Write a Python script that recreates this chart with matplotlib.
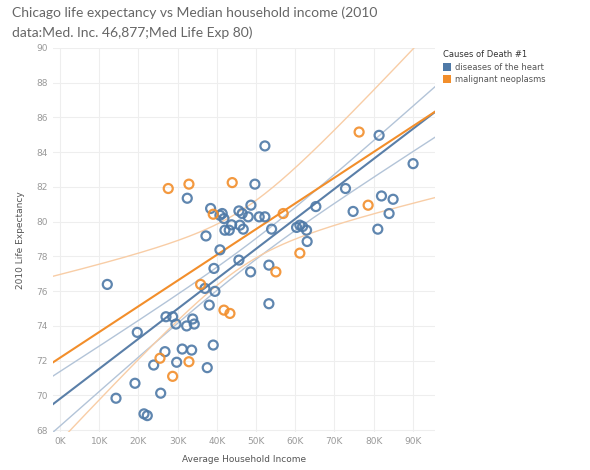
import matplotlib
matplotlib.use("Agg")
import matplotlib.pyplot as plt
from matplotlib.patches import Patch
import numpy as np

# income in thousands, life expectancy in years
heart_income = [12.06, 32.46, 38.42, 40.80, 41.38, 41.82, 45.64, 46.48, 48.01, 50.82,
                52.27, 48.70, 49.72, 52.27, 43.78, 45.89, 42.07, 43.17, 46.74, 37.23,
                53.98, 60.35, 61.19, 61.88, 62.90, 63.05, 65.27, 72.84, 74.78, 81.41,
                90.08, 82.02, 84.98, 83.96, 81.08, 40.80, 45.64, 39.27, 48.62, 53.29,
                36.97, 39.52, 53.29, 38.07, 39.09, 37.56, 27.03, 28.73, 29.58, 33.84,
                32.30, 34.24, 19.71, 26.77, 31.18, 33.58, 29.76, 23.89, 19.12, 25.68,
                14.28, 21.42, 22.26]
heart_life = [76.39, 81.35, 80.76, 80.37, 80.47, 80.18, 80.62, 80.47, 80.28, 80.28,
              80.28, 80.95, 82.16, 84.36, 79.82, 79.80, 79.51, 79.51, 79.57, 79.18,
              79.57, 79.67, 79.80, 79.72, 79.51, 78.86, 80.87, 81.91, 80.59, 84.97,
              83.34, 81.48, 81.29, 80.47, 79.57, 78.38, 77.79, 77.31, 77.11, 77.50,
              76.16, 75.99, 75.28, 75.20, 72.90, 71.60, 74.53, 74.53, 74.11, 74.40,
              74.00, 74.11, 73.63, 72.52, 72.67, 72.61, 71.91, 71.75, 70.70, 70.13,
              69.84, 68.94, 68.84]

cancer_income = [27.61, 32.89, 43.93, 39.09, 35.87, 76.31, 78.61, 56.94, 61.19, 55.07,
                 41.82, 43.35, 25.50, 32.89, 28.73]
cancer_life = [81.91, 82.16, 82.25, 80.43, 76.39, 85.16, 80.95, 80.47, 78.19, 77.11,
               74.91, 74.72, 72.14, 71.94, 71.10]

# linear trend lines as shown in the chart:
# intercept, slope, band centre (K), band half width at centre, x spread of the band
heart_trend = (69.81, 0.1725, 50.0, 0.60, 20.7)
cancer_trend = (72.17, 0.148, 47.0, 1.63, 17.0)

BLUE = "#4E79A7"
ORANGE = "#F28E2B"


def trend(ax, params, color, band_color):
    a, b, m, w0, sd = params
    gx = np.linspace(-2, 97, 300)
    fit = a + b * gx
    w = w0 * np.sqrt(1 + ((gx - m) / sd) ** 2)
    ax.plot(gx, fit + w, color=band_color, lw=1.0, zorder=2)
    ax.plot(gx, fit - w, color=band_color, lw=1.0, zorder=2)
    ax.plot(gx, fit, color=color, lw=1.5, zorder=2)


fig = plt.figure(figsize=(5.9, 4.7), dpi=100)
ax = fig.add_axes([0.0898, 0.081, 0.647, 0.817])

trend(ax, heart_trend, "#5a7fa8", "#b3c4d8")
trend(ax, cancer_trend, ORANGE, "#f8cda6")

ax.scatter(heart_income, heart_life, s=42, facecolors="none", edgecolors=BLUE,
           linewidths=1.6, alpha=0.9, zorder=3)
ax.scatter(cancer_income, cancer_life, s=42, facecolors="none", edgecolors=ORANGE,
           linewidths=1.6, alpha=0.9, zorder=3)

ax.set_xlim(-1.8, 95.6)
ax.set_ylim(67.9, 90.0)
ax.set_xticks(np.arange(0, 100, 10))
ax.set_xticklabels([f"{v}K" for v in range(0, 100, 10)])
ax.set_yticks(np.arange(68, 91, 2))
ax.grid(True, color="#eeeeee", lw=0.8)
ax.set_axisbelow(True)
for sp in ax.spines.values():
    sp.set_visible(False)
ax.tick_params(length=0, labelsize=6.5, colors="#9a9a9a", pad=4)
ax.set_xlabel("Average Household Income", fontsize=6.5, color="#555555", labelpad=6)
ax.set_ylabel("2010 Life Expectancy", fontsize=6.5, color="#555555", labelpad=8)

fig.text(0.02, 0.972, "Chicago life expectancy vs Median household income (2010",
         fontsize=10, color="#666666", family="Lato", va="center")
fig.text(0.02, 0.93, "data:Med. Inc. 46,877;Med Life Exp 80)",
         fontsize=10, color="#666666", family="Lato", va="center")

handles = [Patch(facecolor=BLUE, label="diseases of the heart"),
           Patch(facecolor=ORANGE, label="malignant neoplasms")]
leg = fig.legend(handles=handles, loc="upper left", bbox_to_anchor=(0.745, 0.9),
                 frameon=False, fontsize=6, title="Causes of Death #1",
                 title_fontsize=6, handlelength=1.0, handleheight=1.0,
                 handletextpad=0.5, labelspacing=0.4, borderaxespad=0)
leg._legend_box.align = "left"
for t in leg.get_texts():
    t.set_color("#555555")
leg.get_title().set_color("#333333")

fig.savefig("out.png", dpi=100)
